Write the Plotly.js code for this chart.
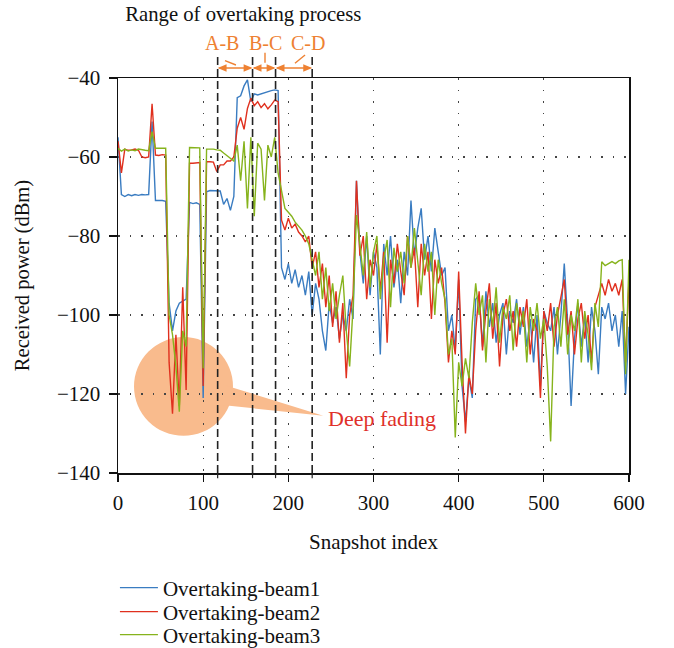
<!DOCTYPE html>
<html>
<head>
<meta charset="utf-8">
<script src="https://cdn.plot.ly/plotly-3.0.1.min.js"></script>
<style>html,body{margin:0;padding:0;background:#fff;}#chart{width:674px;height:648px;}</style>
</head>
<body>
<div id="chart"></div>
<script>
// Snapshot index (every 4th snapshot)
const snapshot = [
0,4,8,12,16,20,24,28,32,36,
40,44,48,52,56,60,64,68,72,76,
80,84,88,92,96,100,104,108,112,116,
120,124,128,132,136,140,144,148,152,156,
160,164,168,172,176,180,184,188,192,196,
200,204,208,212,216,220,224,228,232,236,
240,244,248,252,256,260,264,268,272,276,
280,284,288,292,296,300,304,308,312,316,
320,324,328,332,336,340,344,348,352,356,
360,364,368,372,376,380,384,388,392,396,
400,404,408,412,416,420,424,428,432,436,
440,444,448,452,456,460,464,468,472,476,
480,484,488,492,496,500,504,508,512,516,
520,524,528,532,536,540,544,548,552,556,
560,564,568,572,576,580,584,588,592,596,
600];

const beam1 = [
-55,-69.5,-70,-69.5,-69.8,-69.5,-69.7,-69.5,-69.6,-69.5,
-51,-71,-71,-71,-71.2,-97,-104,-99,-97,-96.5,
-96,-71.5,-71.8,-71.6,-72,-121,-68.8,-68.5,-68.5,-68.6,
-68.6,-72,-70.5,-73.5,-70,-45,-44.5,-42,-40.5,-46,
-44,-44.3,-44,-43.6,-43.5,-43.2,-43,-43.2,-88,-91,
-87,-92,-88.5,-93,-90,-95,-89,-100,-92,-96,
-104,-109,-97,-102,-98,-106,-100,-104,-96,-101,
-66,-84,-92,-80,-95,-84,-88,-110,-82,-90,
-80,-93,-86,-97,-84,-90,-71,-85,-78,-73,
-86,-80,-89,-78,-84,-90,-88,-104,-100,-109,
-91,-118,-127,-116,-121,-96,-95,-108,-94,-103,
-97,-107,-100,-97,-110,-99,-102,-96,-105,-98,
-108,-101,-112,-100,-118,-99,-102,-104,-98,-110,
-100,-87,-102,-123,-106,-97,-108,-100,-112,-98,
-104,-115,-98,-101,-97,-104,-100,-108,-99,-120,
-103];

const beam2 = [
-56,-64,-58,-58.3,-58.2,-58,-58.3,-60,-60.2,-60,
-46.5,-59.5,-59.6,-59.4,-59.5,-112,-125,-105,-123,-93,
-119,-61.6,-61.6,-61.5,-61.4,-118,-61.2,-61.2,-61.3,-63.7,
-62,-62,-61,-61,-60,-52.7,-50,-53,-47.7,-45.1,
-47,-46,-47.5,-46.5,-47.8,-46.8,-45.6,-46,-76,-78.5,
-75.5,-78,-77,-79,-80,-81.5,-80,-88,-84,-93,
-87,-98,-90,-103,-94,-107,-97,-116,-100,-95,
-66,-85,-80,-96,-86,-90,-82,-94,-84,-107,
-86,-92,-82,-89,-95,-80,-88,-83,-98,-82,
-90,-84,-101,-86,-92,-88,-97,-112,-104,-110,
-89,-112,-130,-115,-120,-104,-94,-109,-99,-92,
-106,-97,-113,-100,-96,-104,-99,-108,-98,-103,
-96,-110,-101,-104,-121,-99,-104,-97,-108,-100,
-95,-91,-105,-99,-110,-101,-97,-106,-100,-112,
-98,-95,-92,-95,-91,-94,-92,-95,-91,-112,
-91];

const beam3 = [
-57.8,-58.5,-58,-58.5,-58.2,-58.4,-58,-58.2,-58.3,-58.4,
-53.6,-57.8,-57.8,-57.8,-57.8,-100,-105,-113,-124.5,-104,
-108,-57.6,-57.6,-57.6,-57.7,-113.5,-58,-58,-58,-58.2,
-58.3,-59,-59.6,-60.3,-61,-57,-66,-56,-73,-55,
-75,-56.5,-58,-71,-57,-60,-55,-64,-68.5,-73,
-74,-75,-76.5,-77.5,-78.5,-80,-82,-86,-90,-84,
-96,-88,-99,-92,-101,-95,-90,-104,-113,-98,
-74.7,-82,-90,-79,-93,-84,-80,-96,-86,-81,
-98,-83,-89,-84,-92,-80,-88,-78,-86,-95,
-82,-89,-84,-100,-86,-92,-96,-110,-106,-131,
-112,-118,-111,-116,-102,-92,-100,-95,-112,-96,
-103,-93,-107,-98,-101,-95,-109,-97,-103,-99,
-112,-98,-104,-97,-106,-101,-113,-132,-103,-98,
-108,-96,-110,-100,-104,-96,-112,-99,-105,-114,
-97,-103,-86.5,-87.5,-87,-86.5,-87,-86.3,-86,-115,
-86];

const seriesNames = ["Overtaking-beam1","Overtaking-beam2","Overtaking-beam3"];
const seriesColors = ["#3a7cc1","#e0301e","#86b31c"];

// Phase boundaries of the overtaking process (snapshot index)
const phaseBounds = [117, 158, 185, 228];
const phaseLabels = ["A-B","B-C","C-D"];

const FONT = "Liberation Serif, Times New Roman, serif";
const ORANGE = "#ee8132";
const legendIds = ["legend","legend2","legend3"];

const traces = [beam1, beam2, beam3].map((ys, i) => ({
  x: snapshot, y: ys, type: "scatter", mode: "lines",
  name: seriesNames[i], legend: legendIds[i],
  line: {color: seriesColors[i], width: 1.4}
}));

const shapes = [];
// deep fading bubble
shapes.push({type:"circle", xref:"x", yref:"y", x0:18.8, x1:135, y0:-130.6, y1:-105.6,
  fillcolor:"#f9bb8d", line:{width:0}, layer:"below"});
shapes.push({type:"path", xref:"x", yref:"y", path:"M 113.9,-117 L 241,-125.5 L 113.9,-122.6 Z",
  fillcolor:"#f9bb8d", line:{width:0}, layer:"below"});
// dashed phase boundaries
phaseBounds.forEach(b => {
  shapes.push({type:"line", xref:"x", yref:"paper", x0:b, x1:b, y0:0, y1:1.053,
    line:{color:"#222", width:1.6, dash:"8px,4px"}});
  shapes.push({type:"line", xref:"x", yref:"paper", x0:b, x1:b, y0:0, y1:-0.013,
    line:{color:"#222", width:1.2}});
});
// double-headed arrows between boundaries
const ay = 1.0253, hl = 10.5, hw = 0.0095;
for (let i = 0; i < 3; i++) {
  const a = phaseBounds[i], b = phaseBounds[i+1];
  shapes.push({type:"line", xref:"x", yref:"paper", x0:a+2, x1:b-2, y0:ay, y1:ay, line:{color:ORANGE, width:1.5}});
  shapes.push({type:"path", xref:"x", yref:"paper", fillcolor:ORANGE, line:{width:0},
    path:`M ${b},${ay} L ${b-hl},${ay+hw} L ${b-hl},${ay-hw} Z`});
  shapes.push({type:"path", xref:"x", yref:"paper", fillcolor:ORANGE, line:{width:0},
    path:`M ${a},${ay} L ${a+hl},${ay+hw} L ${a+hl},${ay-hw} Z`});
}
// leader lines for phase labels
shapes.push({type:"line", xref:"x", yref:"paper", x0:125.6, x1:138.5, y0:1.0438, y1:1.0329, line:{color:ORANGE, width:1.4}});
shapes.push({type:"line", xref:"x", yref:"paper", x0:172.6, x1:172.6, y0:1.064, y1:1.0387, line:{color:ORANGE, width:1.4}});
shapes.push({type:"line", xref:"x", yref:"paper", x0:219.6, x1:207.8, y0:1.0582, y1:1.0372, line:{color:ORANGE, width:1.4}});

const annotations = [];
const labelX = [122, 172.6, 223];
phaseLabels.forEach((t, i) => {
  annotations.push({x: labelX[i], y: 1.0886, xref:"x", yref:"paper", text:t, showarrow:false,
    xanchor:"center", yanchor:"middle", font:{family:FONT, size:20, color:ORANGE}});
});
annotations.push({x: 309.4, y: -126.3, xref:"x", yref:"y", text:"Deep fading", showarrow:false,
  xanchor:"center", yanchor:"middle", font:{family:FONT, size:22, color:"#e0302a"}});

const legendY = [-0.2911, -0.3519, -0.4101];
const legendBase = {x:-0.006, xanchor:"left", yanchor:"middle", bgcolor:"rgba(0,0,0,0)",
  font:{family:FONT, size:21, color:"#111"}, itemwidth:38};

const layout = {
  width: 674, height: 648,
  margin: {l:118, r:45, t:78, b:175, autoexpand:false},
  paper_bgcolor:"#fff", plot_bgcolor:"#fff",
  font: {family: FONT, size: 21, color:"#111"},
  title: {text:"Range of overtaking process", font:{family:FONT, size:20.7, color:"#111"},
    x:0.361, xanchor:"center", xref:"container", y:0.979, yanchor:"middle", yref:"container"},
  showlegend: true,
  legend: Object.assign({}, legendBase, {y: legendY[0]}),
  legend2: Object.assign({}, legendBase, {y: legendY[1]}),
  legend3: Object.assign({}, legendBase, {y: legendY[2]}),
  xaxis: {range:[0,600], tickvals:[0,100,200,300,400,500,600], ticks:"outside", ticklen:7, tickwidth:1.2,
    tickcolor:"#111", showline:true, linecolor:"#111", linewidth:1.5, mirror:true, zeroline:false,
    showgrid:true, gridcolor:"#444", gridwidth:1.2, griddash:"1.5px,10px",
    tickfont:{family:FONT, size:21}, ticklabelstandoff:3,
    title:{text:"Snapshot index", standoff:20, font:{family:FONT, size:21}}},
  yaxis: {range:[-140,-40], tickvals:[-140,-120,-100,-80,-60,-40], ticks:"outside", ticklen:8, tickwidth:1.2,
    tickcolor:"#111", showline:true, linecolor:"#111", linewidth:1.5, mirror:true, zeroline:false,
    showgrid:true, gridcolor:"#444", gridwidth:1.2, griddash:"1.5px,10px",
    tickfont:{family:FONT, size:21}, ticklabelstandoff:4,
    title:{text:"Received power (dBm)", standoff:22, font:{family:FONT, size:20.5}}},
  shapes: shapes,
  annotations: annotations
};

Plotly.newPlot("chart", traces, layout, {displayModeBar:false, staticPlot:true});
</script>
</body>
</html>
